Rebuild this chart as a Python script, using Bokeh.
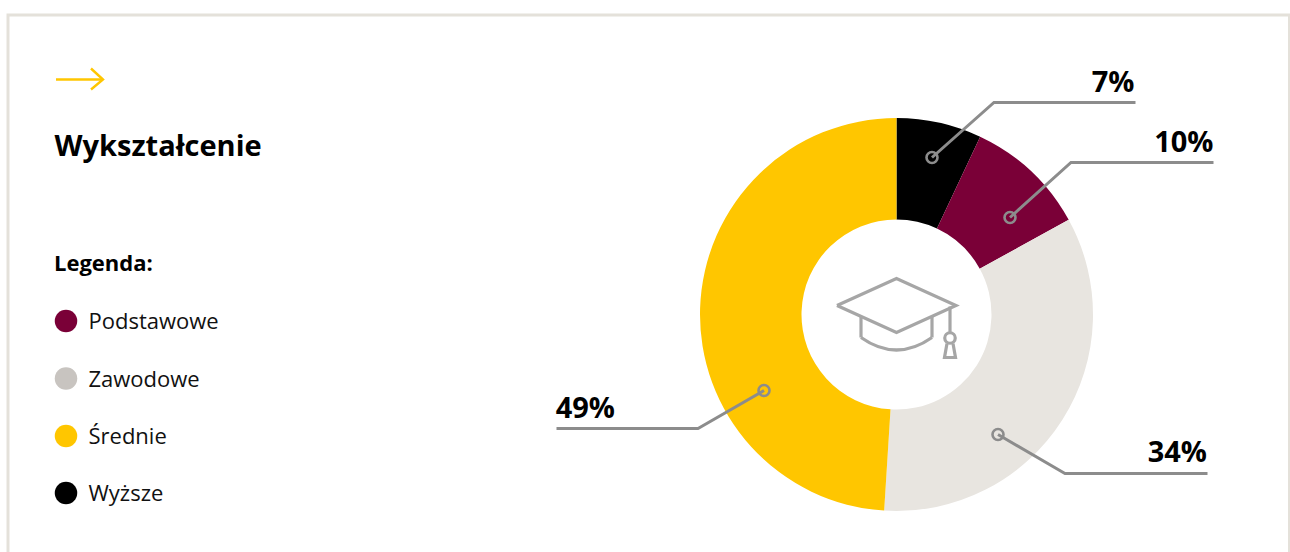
from bokeh.core.properties import value
from bokeh.embed import file_html
from bokeh.models import ColumnDataSource, Range1d
from bokeh.plotting import figure
from bokeh.resources import INLINE
import math

# Education shares, clockwise from twelve o'clock
categories = ["Wyższe", "Podstawowe", "Zawodowe", "Średnie"]
shares = [7, 10, 34, 49]
slice_colors = ["#000000", "#7a0037", "#e8e5e0", "#ffc600"]

# Legend entries
legend_names = ["Podstawowe", "Zawodowe", "Średnie", "Wyższe"]
legend_colors = ["#7a0037", "#c8c4c0", "#ffc600", "#000000"]
legend_rows = [320.5, 378, 435.5, 492.5]

WIDTH, HEIGHT = 1290, 552
FONT = "Open Sans"
LEADER = "#8c8c8c"
ICON = "#a6a6a6"
CX, CY, R_OUT, R_IN = 896, 314, 196.5, 95


def y(v):
    """Top-down pixel row to the upward y scale."""
    return HEIGHT - v


def poly(pts, color, width, dash="solid"):
    p.line([a for a, _ in pts], [y(b) for _, b in pts], line_color=color,
           line_width=width, line_join="miter", line_dash=dash)


p = figure(width=WIDTH, height=HEIGHT, output_backend="svg", toolbar_location=None,
           x_range=Range1d(0, WIDTH), y_range=Range1d(0, HEIGHT),
           min_border=0, outline_line_color=None, background_fill_color="white",
           border_fill_color="white")
p.xaxis.visible = False
p.yaxis.visible = False
p.grid.visible = False

# Card frame
poly([(7.5, 552), (7.5, 14.5), (1289, 14.5), (1289, 552)], "#e4e1da", 3)

# Donut slices from the shares
turn = 2 * math.pi / sum(shares)
starts, ends, run = [], [], 0
for s in shares:
    starts.append(math.pi / 2 - run * turn)
    run += s
    ends.append(math.pi / 2 - run * turn)
src = ColumnDataSource(dict(start=ends, end=starts, color=slice_colors, name=categories))
p.annular_wedge(x=CX, y=y(CY), inner_radius=R_IN, outer_radius=R_OUT,
                start_angle="start", end_angle="end", fill_color="color",
                line_color=None, source=src)

# Leader lines with their share labels
leaders = [
    ([(931.5, 157), (993.5, 102), (1135, 102)], "7%", 1134, 79.5),
    ([(1009.5, 217), (1070.5, 162), (1213, 162)], "10%", 1213, 139.5),
    ([(997.5, 434), (1064.5, 473), (1207, 473)], "34%", 1206.5, 449.5),
    ([(763.5, 390), (697.5, 428), (556, 428)], "49%", 614.5, 405.5),
]
for pts, label, lx, ly in leaders:
    poly(pts, LEADER, 3)
    p.scatter([pts[0][0]], [y(pts[0][1])], size=11, marker="circle",
              fill_color=None, line_color=LEADER, line_width=2.6)
    p.text([lx], [y(ly)], text=[label], text_font=value(FONT), text_font_style="bold",
           text_font_size="29px", text_align="right", text_baseline="middle",
           text_color="#000000")

# Graduation cap in the hole of the donut
poly([(836.5, 305), (896, 278), (955.5, 305), (896, 332), (836.5, 305)], ICON, 3.2)
poly([(860.5, 316), (860.5, 337)], ICON, 3.2)
poly([(931.5, 316), (931.5, 337)], ICON, 3.2)
p.quadratic(x0=[860.5], y0=[y(337)], x1=[931.5], y1=[y(337)], cx=[896], cy=[y(362)],
            line_color=ICON, line_width=3.2)
poly([(949.5, 306), (949.5, 332)], ICON, 3.2)
p.scatter([949.5], [y(337.5)], size=10.5, marker="circle", fill_color=None,
          line_color=ICON, line_width=3.2)
poly([(946.5, 343), (944, 357), (955, 357), (952.5, 343)], ICON, 3.2)

# Arrow above the heading
poly([(55.5, 79), (102.5, 79)], "#ffc600", 2.4)
poly([(90.5, 68), (102.5, 79), (90.5, 89)], "#ffc600", 2.4)

# Heading and legend
p.text([54], [y(144)], text=["Wykształcenie"], text_font=value(FONT), text_font_style="bold",
       text_font_size="29px", text_baseline="middle", text_color="#000000")
p.text([53.5], [y(261.5)], text=["Legenda:"], text_font=value(FONT), text_font_style="bold",
       text_font_size="22px", text_baseline="middle", text_color="#000000")
p.scatter([65.5] * 4, [y(r) for r in legend_rows], size=22.5, marker="circle",
          fill_color=legend_colors, line_color=None)
p.text([88] * 4, [y(r - 1) for r in legend_rows], text=legend_names, text_font=value(FONT),
       text_font_size="22px", text_baseline="middle", text_color="#111111")

open("out.html", "w").write(file_html(p, INLINE))
